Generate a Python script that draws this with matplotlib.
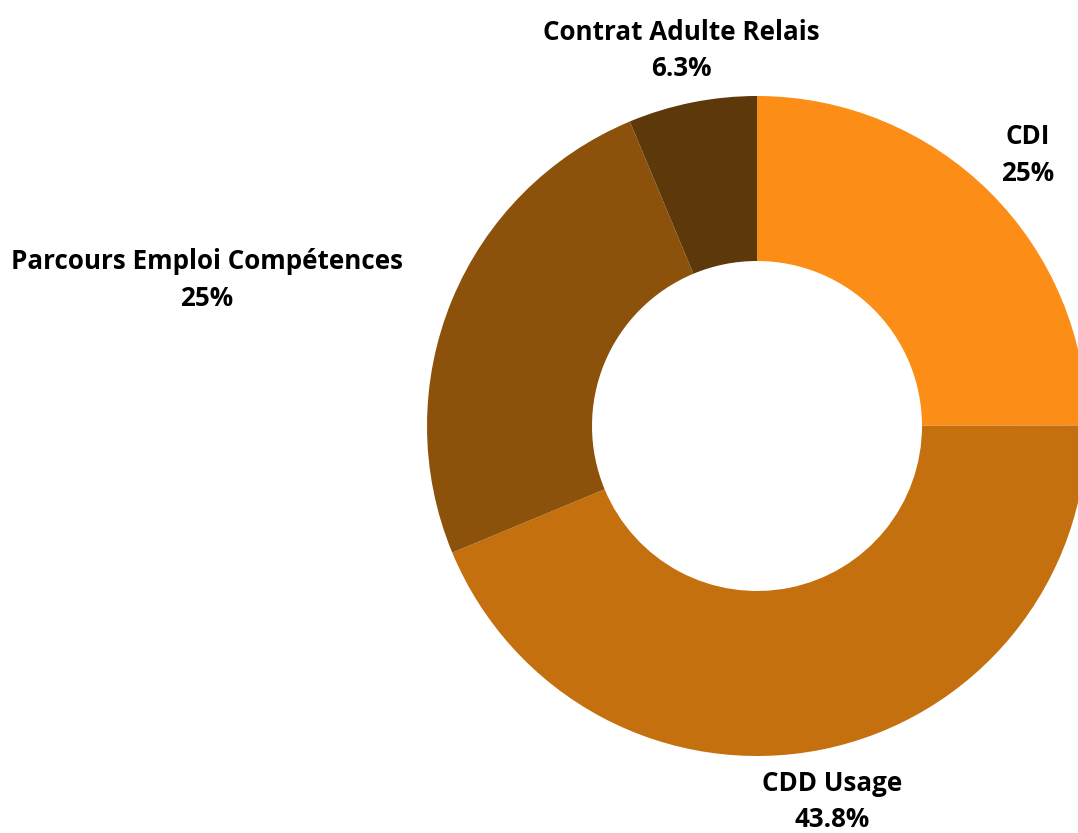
import matplotlib.pyplot as plt

categories = ["CDI", "CDD Usage", "Parcours Emploi Compétences", "Contrat Adulte Relais"]
shares = [25, 43.8, 25, 6.3]
colors = ["#FC8D17", "#C4700E", "#8C520B", "#5C380A"]

W, H = 1078, 833
fig = plt.figure(figsize=(W / 100, H / 100), dpi=100)
ax = fig.add_axes([0, 0, 1, 1])

cx, cy, r = 757, H - 426, 330
labels = [f"{c}\n{s:g}%" for c, s in zip(categories, shares)]
wedges, texts = ax.pie(
    shares, labels=labels, colors=colors, startangle=90, counterclock=False,
    center=(cx, cy), radius=r, labeldistance=1.16,
    wedgeprops=dict(width=r * 0.5, linewidth=0),
    textprops=dict(fontsize=18.7, fontweight="bold", family="Open Sans",
                   linespacing=1.45, color="black"),
)
for t in texts:
    t.set_va("center")
    t.set_ha("center")
    t.set_multialignment("center")
texts[2].set_ha("right")

ax.set_xlim(0, W)
ax.set_ylim(0, H)
ax.set_aspect("equal")
ax.axis("off")

fig.savefig("out.png", dpi=100)
